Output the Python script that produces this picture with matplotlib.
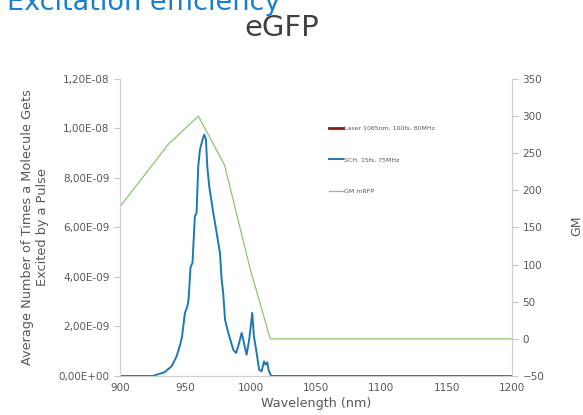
import numpy as np
import matplotlib.pyplot as plt
from matplotlib.ticker import FuncFormatter

# SCH, 15fs, 75MHz  (excitations per pulse)
sch_nm = [900, 925, 934, 939.5, 943.3, 946, 947.5, 949.7, 951.5, 952.5, 954, 955.5,
          957.3, 958.6, 959.9, 961.2, 963.2, 964.5, 965.8, 966.8, 968.3, 971.4, 974,
          976.5, 977.8, 979, 980.4, 982.9, 986.7, 988.8, 990.5, 993.1, 994.9, 996.9,
          998.9, 1001.2, 1002.5, 1004.6, 1006.5, 1008.4, 1010.2, 1011.4, 1012.7,
          1013.7, 1015.2, 1016, 1200]
sch_val = [0, 0, 0.15, 0.39, 0.79, 1.25, 1.6, 2.55, 2.8, 3.1, 4.4, 4.57,
           6.45, 6.59, 8.47, 9.14, 9.55, 9.75, 9.55, 8.47, 7.66, 6.59, 5.78,
           4.97, 3.89, 3.35, 2.27, 1.74, 1.06, 0.93, 1.2, 1.74, 1.33, 0.86,
           1.47, 2.55, 1.6, 0.93, 0.25, 0.19, 0.59, 0.46, 0.55,
           0.25, 0.05, 0, 0]
sch_val = [v * 1e-9 for v in sch_val]

# Laser 1065nm, 100fs, 80MHz
laser_nm = [1035, 1095]
laser_val = [0.01e-9, 0.01e-9]

# GM mRFP (right axis)
gm_nm = [900, 937, 960, 980, 1000, 1015, 1200]
gm_val = [178, 262, 300, 234, 92, 0, 0]

gray = '#595959'
fig = plt.figure(figsize=(5.83, 4.15), dpi=100)
ax = fig.add_axes([0.2058, 0.094, 0.6724, 0.7157])
ax2 = ax.twinx()

l1, = ax.plot(laser_nm, laser_val, color='#8b1a1a', lw=2, label='Laser 1065nm, 100fs, 80MHz', zorder=2)
l2, = ax.plot(sch_nm, sch_val, color='#1f78b4', lw=1.4, label='SCH, 15fs, 75MHz', zorder=3)
l3, = ax2.plot(gm_nm, gm_val, color='#8cc66c', lw=0.9, label='GM mRFP')

ax.set_xlim(900, 1200)
ax.set_ylim(0, 1.2e-8)
ax.set_yticks(np.arange(0, 1.21e-8, 2e-9))
ax.yaxis.set_major_formatter(FuncFormatter(lambda v, p: ('%.2E' % v).replace('.', ',')))
ax.set_xticks(range(900, 1201, 50))
ax2.set_ylim(-50, 350)
ax2.set_yticks(range(-50, 351, 50))

for a in (ax, ax2):
    for s in a.spines.values():
        s.set_color('#d0d0d0')
    a.spines['top'].set_visible(False)
    a.tick_params(colors='#c8c8c8', labelcolor=gray, labelsize=7.5, length=4, width=0.8)
ax.tick_params(axis='x', length=0, pad=5)

ax.set_xlabel('Wavelength (nm)', color=gray, fontsize=9.2, labelpad=3)
ax.set_ylabel('Average Number of Times a Molecule Gets\nExcited by a Pulse', color=gray,
              fontsize=9.3, labelpad=7)
fig.text(0.989, 0.455, 'GM', rotation=90, ha='center', va='center', color=gray, fontsize=9)

leg = ax.legend(handles=[l1, l2, l3], loc='upper left', bbox_to_anchor=(0.52, 0.862),
                frameon=False, fontsize=4.5, labelspacing=4.2, handlelength=2.2,
                handletextpad=0.2)
for t in leg.get_texts():
    t.set_color(gray)

fig.text(0.483, 0.932, 'eGFP', ha='center', va='center', fontsize=21, color='#404040')
# page heading, mostly cut off at the top like in the source slide
fig.text(0.012, 0.975, 'Excitation efficiency', ha='left', va='baseline', fontsize=19.5, color='#1a7fd0')

plt.savefig('out.png', dpi=100)
